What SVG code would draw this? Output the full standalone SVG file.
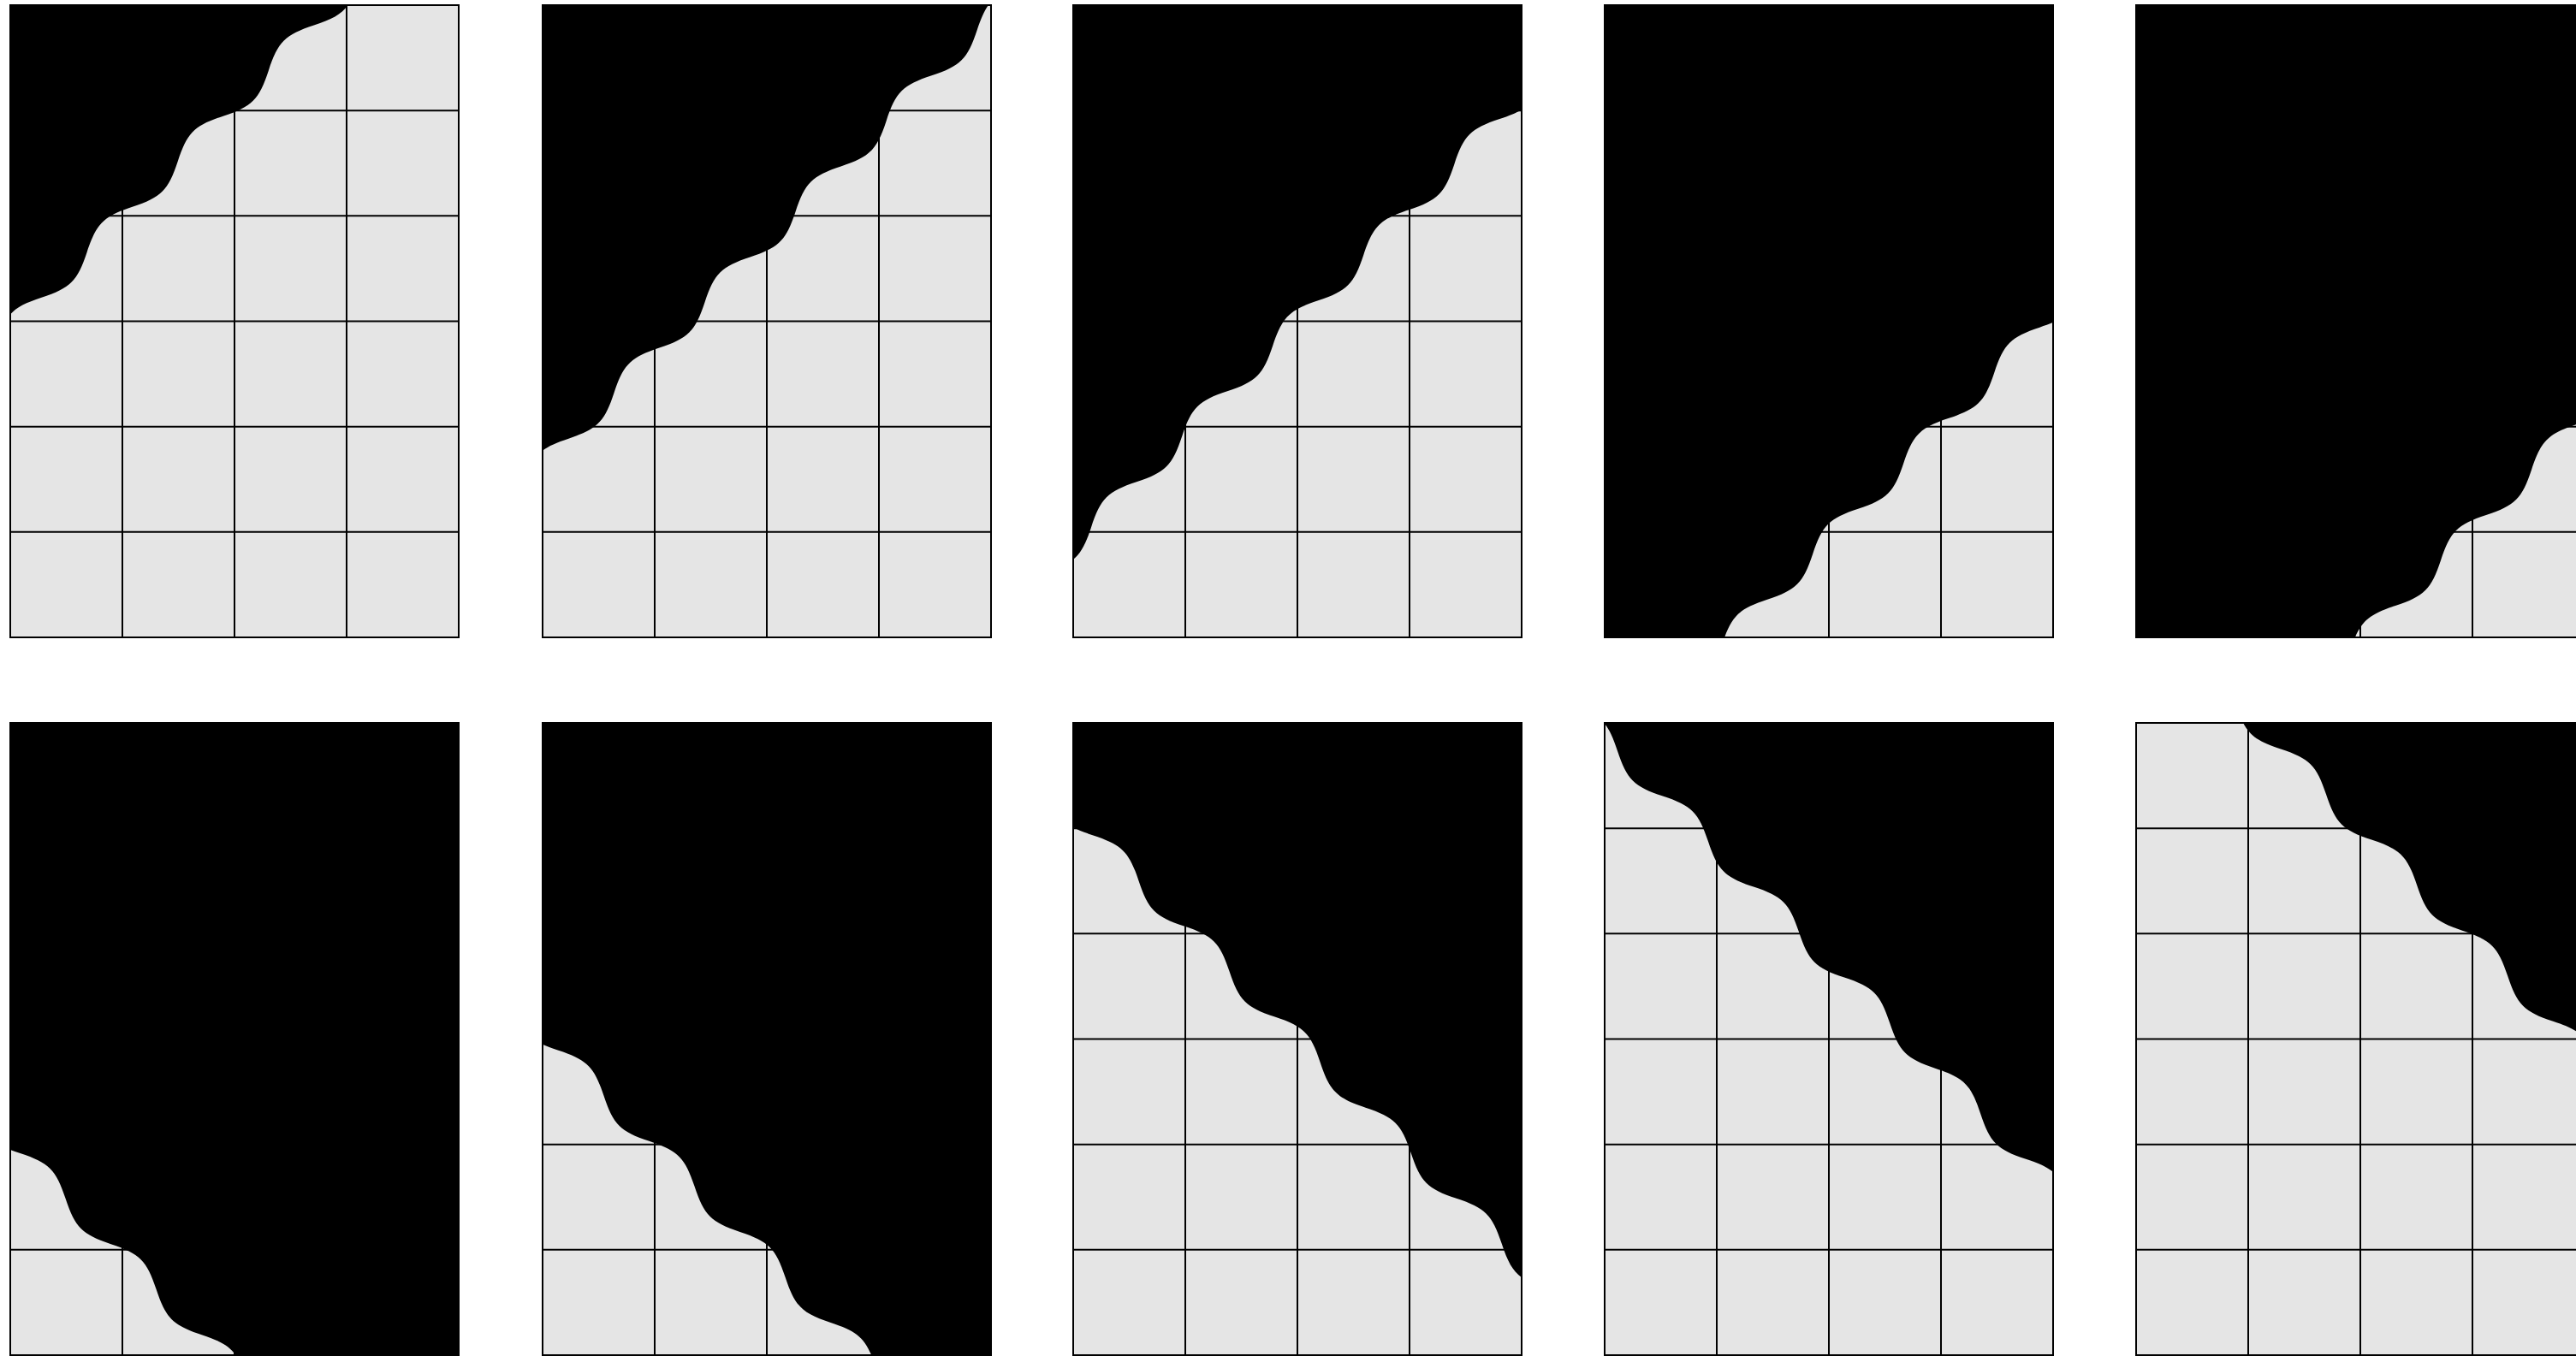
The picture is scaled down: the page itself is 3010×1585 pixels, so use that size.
<svg xmlns="http://www.w3.org/2000/svg" xmlns:xlink="http://www.w3.org/1999/xlink" width="3010" height="1585" viewBox="0 0 3010 1585">
<style>
.bg{fill:#e5e5e5;}
.grid{fill:none;stroke:#000;stroke-width:2;}
.mask{fill:#000;}
</style>
<defs>
<clipPath id="clip"><rect x="0" y="0" width="524" height="739"/></clipPath>
<path id="grid" class="grid" d="M0,0H524V739H0Z M131,0V739 M262,0V739 M393,0V739 M0,123.2H524 M0,246.3H524 M0,369.5H524 M0,492.7H524 M0,615.8H524"/>
<path id="wave" class="mask" d="M-1050,0 c31.8,-16 43.2,-16 75,0 s43.2,16 75,0 s43.2,-16 75,0 s43.2,16 75,0 s43.2,-16 75,0 s43.2,16 75,0 s43.2,-16 75,0 s43.2,16 75,0 s43.2,-16 75,0 s43.2,16 75,0 s43.2,-16 75,0 s43.2,16 75,0 s43.2,-16 75,0 s43.2,16 75,0 s43.2,-16 75,0 s43.2,16 75,0 s43.2,-16 75,0 s43.2,16 75,0 s43.2,-16 75,0 s43.2,16 75,0 s43.2,-16 75,0 s43.2,16 75,0 s43.2,-16 75,0 s43.2,16 75,0 s43.2,-16 75,0 s43.2,16 75,0 s43.2,-16 75,0 s43.2,16 75,0 L1050,-1100 L-1050,-1100 Z"/>
</defs>
<rect width="3010" height="1585" fill="#fff"/>
<g id="panel-1" transform="translate(12,6)">
<rect class="bg" width="524" height="739"/><use href="#grid"/>
<g clip-path="url(#clip)"><use href="#wave" transform="translate(195.7,182.7) rotate(-45)"/></g>
</g>
<g id="panel-2" transform="translate(634,6)">
<rect class="bg" width="524" height="739"/><use href="#grid"/>
<g clip-path="url(#clip)"><use href="#wave" transform="translate(83.4,453.6) rotate(-45)"/></g>
</g>
<g id="panel-3" transform="translate(1254,6)">
<rect class="bg" width="524" height="739"/><use href="#grid"/>
<g clip-path="url(#clip)"><use href="#wave" transform="translate(21,610.4) rotate(-45)"/></g>
</g>
<g id="panel-4" transform="translate(1875,6)">
<rect class="bg" width="524" height="739"/><use href="#grid"/>
<g clip-path="url(#clip)"><use href="#wave" transform="translate(243.1,641.8) rotate(-45)"/></g>
</g>
<g id="panel-5" transform="translate(2496,6)">
<rect class="bg" width="524" height="739"/><use href="#grid"/>
<g clip-path="url(#clip)"><use href="#wave" transform="translate(356,649) rotate(-45)"/></g>
</g>
<g id="panel-6" transform="translate(12,845)">
<rect class="bg" width="524" height="739"/><use href="#grid"/>
<g clip-path="url(#clip)"><use href="#wave" transform="translate(64.6,556.1) scale(-1,1) rotate(-45)"/></g>
</g>
<g id="panel-7" transform="translate(634,845)">
<rect class="bg" width="524" height="739"/><use href="#grid"/>
<g clip-path="url(#clip)"><use href="#wave" transform="translate(71.5,435.8) scale(-1,1) rotate(-45)"/></g>
</g>
<g id="panel-8" transform="translate(1254,845)">
<rect class="bg" width="524" height="739"/><use href="#grid"/>
<g clip-path="url(#clip)"><use href="#wave" transform="translate(76.5,184.5) scale(-1,1) rotate(-45)"/></g>
</g>
<g id="panel-9" transform="translate(1875,845)">
<rect class="bg" width="524" height="739"/><use href="#grid"/>
<g clip-path="url(#clip)"><use href="#wave" transform="translate(14.9,32.4) scale(-1,1) rotate(-45)"/></g>
</g>
<g id="panel-10" transform="translate(2496,845)">
<rect class="bg" width="524" height="739"/><use href="#grid"/>
<g clip-path="url(#clip)"><use href="#wave" transform="translate(328.1,189.6) scale(-1,1) rotate(-45)"/></g>
</g>
<g id="connectors"/>
</svg>
